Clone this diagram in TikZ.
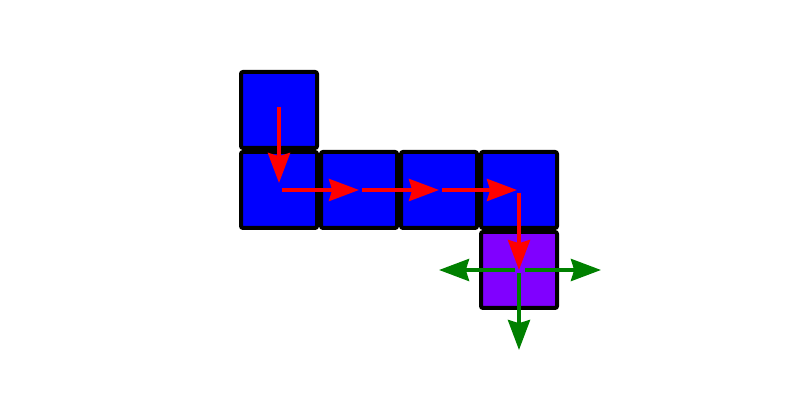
\documentclass[tikz,border=0pt]{standalone}
\usetikzlibrary{arrows.meta,positioning}
\definecolor{cellblue}{RGB}{0,0,255}
\definecolor{cellpurple}{RGB}{128,0,255}
\definecolor{movered}{RGB}{255,0,0}
\definecolor{movegreen}{RGB}{0,128,0}

\begin{document}
\begin{tikzpicture}[
    grid cell/.style={draw=black, line width=0.1cm, fill=cellblue, minimum size=1.9cm, rounded corners=0.05cm, inner sep=0pt, outer sep=0pt},
    path step/.style={draw=movered, line width=0.1cm, -{Stealth[length=0.75cm, width=0.55cm, inset=0.08cm]}},
    next step/.style={draw=movegreen, line width=0.1cm, -{Stealth[length=0.75cm, width=0.55cm, inset=0.08cm]}}
  ]
  \useasboundingbox (0,0) rectangle (20,10);
  \begin{scope}[every node/.style={grid cell}, node distance=2cm]
  \node at (6.975,7.25) (top) {};
  \node [below of=top] (a) {};
  \node [right of=a] (b) {};
  \node [right of=b] (c) {};
  \node [right of=c] (d) {};
  \node [below of=d, fill=cellpurple] (goal) {};
  \end{scope}
  \coordinate [left=2cm of goal.center] (west);
  \coordinate [right=2.05cm of goal.center] (east);
  \coordinate [below=2cm of goal.center] (south);

  \begin{scope}[every path/.style={path step}]
  \path [shorten <=-0.075cm, shorten >=0.175cm] (top.center) -- (a.center);
  \path [shorten <=0.075cm] (a.center) -- (b.center);
  \path [shorten <=0.075cm] (b.center) -- (c.center);
  \path [shorten <=0.075cm, shorten >=0.05cm] (c.center) -- (d.center);
  \path [shorten <=0.075cm] (d.center) -- (goal.center);
  \end{scope}

  \begin{scope}[every path/.style={next step}]
  \path [shorten <=0.1cm] (goal.center) -- (west);
  \path [shorten <=0.15cm] (goal.center) -- (east);
  \path [shorten <=0.075cm] (goal.center) -- (south);
  \end{scope}
\end{tikzpicture}
\end{document}
